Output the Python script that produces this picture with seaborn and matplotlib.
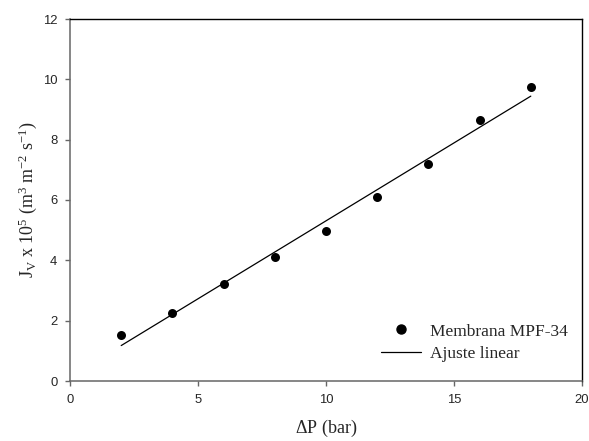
import numpy as np
import pandas as pd
import matplotlib
matplotlib.use("Agg")
import matplotlib.pyplot as plt
import seaborn as sns
from matplotlib.lines import Line2D

# Data
delta_p = [2, 4, 6, 8, 10, 12, 14, 16, 18]
jv = [1.52, 2.26, 3.21, 4.12, 4.98, 6.11, 7.18, 8.66, 9.74]
x_ticks = [0, 5, 10, 15, 20]
y_ticks = [0, 2, 4, 6, 8, 10, 12]
series_label = "Membrana MPF-34"
fit_label = "Ajuste linear"

df = pd.DataFrame({"dp": delta_p, "jv": jv})

sns.set_style("ticks")
plt.rcParams["mathtext.fontset"] = "custom"
plt.rcParams["mathtext.rm"] = "Liberation Serif"
plt.rcParams["mathtext.it"] = "Liberation Serif:italic"

fig = plt.figure(figsize=(5.89, 4.41), dpi=100)
ax = fig.add_axes([70/589, 60/441, 512/589, 362/441])

sns.scatterplot(data=df, x="dp", y="jv", ax=ax, color="black", s=42,
                edgecolor="black", linewidth=0, zorder=3)
sns.regplot(data=df, x="dp", y="jv", ax=ax, scatter=False, ci=None,
            color="black", line_kws={"linewidth": 0.9})

ax.set_xlim(0, 20)
ax.set_ylim(0, 12)
ax.set_xticks(x_ticks)
ax.set_yticks(y_ticks)

tick_font = {"family": "Liberation Sans", "size": 9.4}
ax.set_xticklabels([str(t) for t in x_ticks], fontdict=tick_font)
ax.set_yticklabels([str(t) for t in y_ticks], fontdict=tick_font)

for s in ["left", "bottom"]:
    ax.spines[s].set_color("#666666")
    ax.spines[s].set_linewidth(1.1)
for s in ["top", "right"]:
    ax.spines[s].set_visible(True)
    ax.spines[s].set_color("black")
    ax.spines[s].set_linewidth(1.0)
ax.tick_params(axis="both", direction="out", length=3.6, width=1.0,
               color="#666666")
ax.tick_params(axis="x", pad=5.5)
ax.tick_params(axis="y", pad=5.5)

ax.set_xlabel(r"$\Delta$P (bar)", fontfamily="Liberation Serif", fontsize=13, labelpad=9)
ax.set_ylabel(r"J$_\mathrm{V}$ x 10$^5$ (m$^3$ m$^{-2}$ s$^{-1}$)",
              fontfamily="Liberation Serif", fontsize=13, labelpad=3)

handles = [
    Line2D([], [], marker="o", linestyle="none", color="black", markersize=6.5),
    Line2D([], [], color="black", linewidth=0.9),
]
ax.legend(handles, [series_label, fit_label], loc="lower right",
          bbox_to_anchor=(1.003, 0.01), frameon=False,
          prop={"family": "Liberation Serif", "size": 12.5},
          handlelength=2.3, handletextpad=0.5, labelspacing=0.35)

fig.savefig("out.png", dpi=100)
